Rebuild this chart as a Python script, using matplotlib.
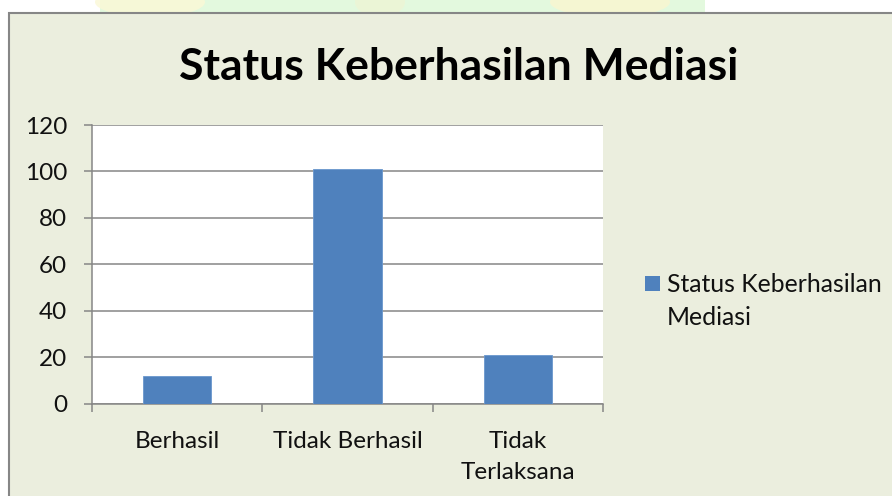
import matplotlib
matplotlib.use("Agg")
import matplotlib.pyplot as plt
from matplotlib.patches import Rectangle, Ellipse

categories = ["Berhasil", "Tidak Berhasil", "Tidak\nTerlaksana"]
values = [12, 101, 21]
series_lines = ["Status Keberhasilan", "Mediasi"]
title = "Status Keberhasilan Mediasi"
yticks = [0, 20, 40, 60, 80, 100, 120]

W, H = 892, 496
BG = "#EBEEDE"
GRID = "#868686"
BAR = "#4F81BD"

plt.rcParams["font.family"] = ["Lato", "DejaVu Sans"]

fig = plt.figure(figsize=(W / 100, H / 100), dpi=100)
fig.patch.set_facecolor("white")

def fx(px):
    return px / W

def fy(py):
    return 1 - py / H

# faint watermark strip at top
fig.patches.append(Rectangle((fx(100), fy(13)), fx(605), 13 / H, transform=fig.transFigure,
                             facecolor="#E3F9DE", edgecolor="none", zorder=0))
for cx, w, col in [(150, 110, "#FBF8D6"), (380, 50, "#EEF5D4"), (610, 120, "#FAF6D0")]:
    fig.patches.append(Ellipse((fx(cx), fy(2)), fx(w), 30 / H, transform=fig.transFigure,
                               facecolor=col, edgecolor="none", alpha=0.8, zorder=0.5))

# chart area frame
fig.patches.append(Rectangle((fx(8.5), fy(520)), fx(900), (520 - 12.5) / H, transform=fig.transFigure,
                             facecolor=BG, edgecolor=GRID, linewidth=1.5, zorder=1))

ax = fig.add_axes([fx(92), fy(403.5), fx(603 - 92), (403.5 - 125) / H])
ax.set_facecolor("white")
ax.set_zorder(2)

x = list(range(len(categories)))
ax.bar(x, values, width=0.4, color=BAR, edgecolor="#6A97CD", linewidth=0.6, zorder=3)

ax.set_xlim(-0.5, len(categories) - 0.5)
ax.set_ylim(0, 120)
ax.set_yticks(yticks)
ax.yaxis.grid(True, color=GRID, linewidth=1.1, zorder=1)
ax.set_axisbelow(True)

for s in ["top", "right"]:
    ax.spines[s].set_visible(False)
for s in ["left", "bottom"]:
    ax.spines[s].set_color(GRID)
    ax.spines[s].set_linewidth(1.1)

ax.set_xticks(x)
ax.set_xticklabels(categories, multialignment="center", linespacing=1.6)
ax.set_xticks([i - 0.5 for i in range(len(categories) + 1)], minor=True)
ax.tick_params(axis="x", which="major", length=0, pad=19.5, labelsize=17.5, labelcolor="#111111")
ax.tick_params(axis="x", which="minor", length=6, width=1.1, color=GRID, direction="out")
ax.tick_params(axis="y", length=6, width=1.1, color=GRID, direction="out", pad=12,
               labelsize=17.5, labelcolor="#111111")

fig.text(fx(459), fy(80), title, ha="center", va="baseline", fontsize=32,
         fontweight="bold", color="#000000", zorder=5)

# legend
fig.patches.append(Rectangle((fx(645), fy(291)), fx(15), 15 / H, transform=fig.transFigure,
                             facecolor=BAR, edgecolor="none", zorder=5))
for i, line in enumerate(series_lines):
    fig.text(fx(667), fy(292 + 33 * i), line, ha="left", va="baseline", fontsize=17.8,
             color="#111111", zorder=5)

fig.savefig("out.png", dpi=100, facecolor=fig.get_facecolor())
